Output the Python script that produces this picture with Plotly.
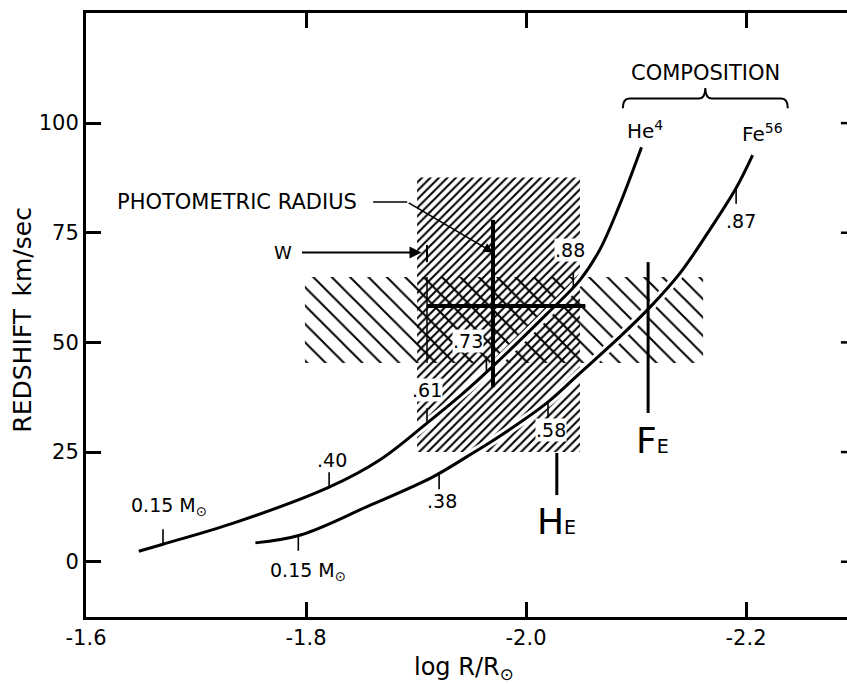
import plotly.graph_objects as go

# ---- data (log R/Rsun , redshift km/sec) ----
he4_logr = [-1.648, -1.670, -1.734, -1.821, -1.867, -1.910, -1.940, -1.970, -2.019, -2.049, -2.067, -2.085, -2.105]
he4_z = [2.4, 4.0, 8.8, 17.0, 23.2, 31.6, 37.8, 44.6, 56.5, 64.2, 71.1, 81.3, 94.5]
fe56_logr = [-1.754, -1.795, -1.855, -1.915, -1.946, -1.976, -2.019, -2.049, -2.085, -2.113, -2.140, -2.165, -2.191, -2.206]
fe56_z = [4.3, 6.1, 12.5, 19.3, 23.9, 28.6, 36.2, 43.0, 51.2, 58.1, 65.8, 74.9, 85.2, 92.7]

he4_mass_labels = ["0.15 M<sub>⊙</sub>", ".40", ".61", ".73", ".88"]
he4_mass_logr = [-1.670, -1.821, -1.910, -1.964, -2.043]
he4_mass_z = [4.0, 17.0, 31.6, 43.4, 62.6]
fe56_mass_labels = ["0.15 M<sub>⊙</sub>", ".38", ".58", ".87"]
fe56_mass_logr = [-1.793, -1.921, -2.020, -2.191]
fe56_mass_z = [6.1, 20.1, 36.4, 85.2]

radius_band_logr = [-1.901, -2.049]
radius_band_z = [25.0, 87.6]
redshift_band_logr = [-1.799, -2.161]
redshift_band_z = [45.3, 64.9]

photometric_logr = -1.970
photometric_z = [39.8, 77.9]
measured_z = 58.3
measured_logr = [-1.910, -2.054]
w_logr = -1.910

he_line_logr = -2.028
he_line_z = [15.2, 24.8]
fe_line_logr = -2.111
fe_line_z = [33.9, 68.3]

x_ticks = [-1.6, -1.8, -2.0, -2.2]
x_ticktext = ["-1.6", "-1.8", "-2.0", "-2.2"]
y_ticks = [0, 25, 50, 75, 100]

FONT = "DejaVu Sans"
fig = go.Figure()

def rect(xs, ys):
    return [xs[0], xs[1], xs[1], xs[0], xs[0]], [ys[0], ys[0], ys[1], ys[1], ys[0]]

# hatched bands
bx, by = rect(radius_band_logr, radius_band_z)
fig.add_trace(go.Scatter(x=bx, y=by, mode="lines", line=dict(width=0), fill="toself",
                         fillcolor="rgba(0,0,0,0)",
                         fillpattern=dict(shape="/", size=6, solidity=0.34, fgcolor="black",
                                          bgcolor="rgba(0,0,0,0)", fgopacity=1),
                         hoverinfo="skip", showlegend=False))
bx, by = rect(redshift_band_logr, redshift_band_z)
fig.add_trace(go.Scatter(x=bx, y=by, mode="lines", line=dict(width=0), fill="toself",
                         fillcolor="rgba(0,0,0,0)",
                         fillpattern=dict(shape="\\", size=13, solidity=0.15, fgcolor="black",
                                          bgcolor="rgba(0,0,0,0)", fgopacity=1),
                         hoverinfo="skip", showlegend=False))

# white halos under the curves
for xs, ys in [(he4_logr, he4_z), (fe56_logr, fe56_z)]:
    fig.add_trace(go.Scatter(x=xs, y=ys, mode="lines", line=dict(color="white", width=9, shape="spline"),
                             hoverinfo="skip", showlegend=False))
# curves
for xs, ys in [(he4_logr, he4_z), (fe56_logr, fe56_z)]:
    fig.add_trace(go.Scatter(x=xs, y=ys, mode="lines", line=dict(color="black", width=3, shape="spline"),
                             showlegend=False))

# mass ticks
def ticks(xs, ys, dz):
    tx, ty = [], []
    for x, y in zip(xs, ys):
        tx += [x, x, None]
        ty += [y, y + dz, None]
    return tx, ty

tx, ty = ticks(he4_mass_logr, he4_mass_z, 3.4)
fig.add_trace(go.Scatter(x=tx, y=ty, mode="lines", line=dict(color="black", width=1.6), showlegend=False))
tx, ty = ticks(fe56_mass_logr, fe56_mass_z, -3.6)
fig.add_trace(go.Scatter(x=tx, y=ty, mode="lines", line=dict(color="black", width=1.6), showlegend=False))

# error bars / markers
def seg(x, y, w):
    fig.add_trace(go.Scatter(x=x, y=y, mode="lines", line=dict(color="black", width=w), showlegend=False))

seg([photometric_logr, photometric_logr], photometric_z, 4)
seg(measured_logr, [measured_z, measured_z], 4)
seg([w_logr, w_logr], [68.3, 72.2], 2)
seg([w_logr, w_logr], [redshift_band_z[0], redshift_band_z[1]], 1.5)
seg([he_line_logr, he_line_logr], he_line_z, 3)
seg([fe_line_logr, fe_line_logr], fe_line_z, 3)
seg([-1.861, -1.892], [82.0, 82.0], 1.5)

ann = []
def lab(x, y, text, size=19, bg=None):
    d = dict(x=x, y=y, xref="x", yref="y", text=text, showarrow=False,
             font=dict(family=FONT, size=size, color="black"))
    if bg:
        d.update(bgcolor=bg, borderpad=0)
    ann.append(d)

lab(-1.675, 12.7, he4_mass_labels[0])
lab(-1.824, 23.2, he4_mass_labels[1])
lab(-1.910, 39.1, he4_mass_labels[2], bg="white")
lab(-1.947, 50.3, he4_mass_labels[3], bg="white")
lab(-2.040, 71.1, he4_mass_labels[4], bg="white")
lab(-1.802, -2.3, fe56_mass_labels[0])
lab(-1.924, 13.8, fe56_mass_labels[1])
lab(-2.023, 30.0, fe56_mass_labels[2], bg="white")
lab(-2.195, 77.6, fe56_mass_labels[3])

lab(-2.028, 9.2, "H<span style='font-size:19px'>E</span>", size=36)
lab(-2.115, 27.7, "F<span style='font-size:19px'>E</span>", size=36)
lab(-1.779, 70.6, "W", size=18)
lab(-1.737, 82.0, "PHOTOMETRIC RADIUS", size=21)
lab(-2.163, 111.4, "COMPOSITION", size=21)
lab(-2.108, 98.4, "He<sup>4</sup>", size=20)
lab(-2.215, 97.8, "Fe<sup>56</sup>", size=20)

# arrows
ann.append(dict(x=photometric_logr, y=70.5, ax=-1.892, ay=82.0, xref="x", yref="y", axref="x", ayref="y",
                text="", showarrow=True, arrowhead=2, arrowsize=1.3, arrowwidth=1.5, arrowcolor="black"))
ann.append(dict(x=-1.905, y=70.5, ax=-1.795, ay=70.5, xref="x", yref="y", axref="x", ayref="y",
                text="", showarrow=True, arrowhead=2, arrowsize=1.2, arrowwidth=2, arrowcolor="black"))

# axis titles
ann.append(dict(x=-0.083, y=0.492, xref="paper", yref="paper", xanchor="center", yanchor="middle",
                text="REDSHIFT\u2002km/sec", textangle=-90, showarrow=False,
                font=dict(family=FONT, size=25, color="black")))
ann.append(dict(x=0.497, y=-0.086, xref="paper", yref="paper", xanchor="center", yanchor="middle",
                text="log R/R<sub>⊙</sub>", showarrow=False,
                font=dict(family=FONT, size=24, color="black")))

# composition brace
x0, x1, xc = -2.088, -2.238, -2.163
yt, ya, yc = 103.4, 105.6, 108.0
dx = 0.006
brace = (f"M {x0},{yt} Q {x0},{ya} {x0-dx},{ya} L {xc+dx},{ya} Q {xc},{ya} {xc},{yc} "
         f"Q {xc},{ya} {xc-dx},{ya} L {x1+dx},{ya} Q {x1},{ya} {x1},{yt}")
shapes = [dict(type="path", path=brace, xref="x", yref="y", line=dict(color="black", width=2))]
# right-hand frame ticks (frame edge lies just outside the picture)
for v in y_ticks:
    shapes.append(dict(type="line", xref="paper", yref="y", x0=0.992, x1=1.0, y0=v, y1=v,
                       line=dict(color="black", width=2.5)))

fig.update_layout(
    width=847, height=684,
    margin=dict(l=86, r=0, t=13, b=67),
    paper_bgcolor="white", plot_bgcolor="white",
    showlegend=False,
    annotations=ann, shapes=shapes,
    xaxis=dict(range=[-1.6, -2.2918], tickvals=x_ticks, ticktext=x_ticktext,
               ticks="inside", ticklen=15, tickwidth=2.5, tickcolor="black",
               showline=True, linewidth=3, linecolor="black", mirror="ticks",
               showgrid=False, zeroline=False,
               tickfont=dict(family=FONT, size=21, color="black")),
    yaxis=dict(range=[-12.6, 125.1], tickvals=y_ticks,
               ticks="inside", ticklen=15, tickwidth=2.5, tickcolor="black",
               showline=True, linewidth=3, linecolor="black",
               showgrid=False, zeroline=False,
               tickfont=dict(family=FONT, size=21, color="black")),
)

# remove the page's default body margin so the figure fills the window exactly
fig.write_html("out.html",
               config={"displayModeBar": False},
               post_script="document.body.style.margin='0';document.body.style.overflow='hidden';")
